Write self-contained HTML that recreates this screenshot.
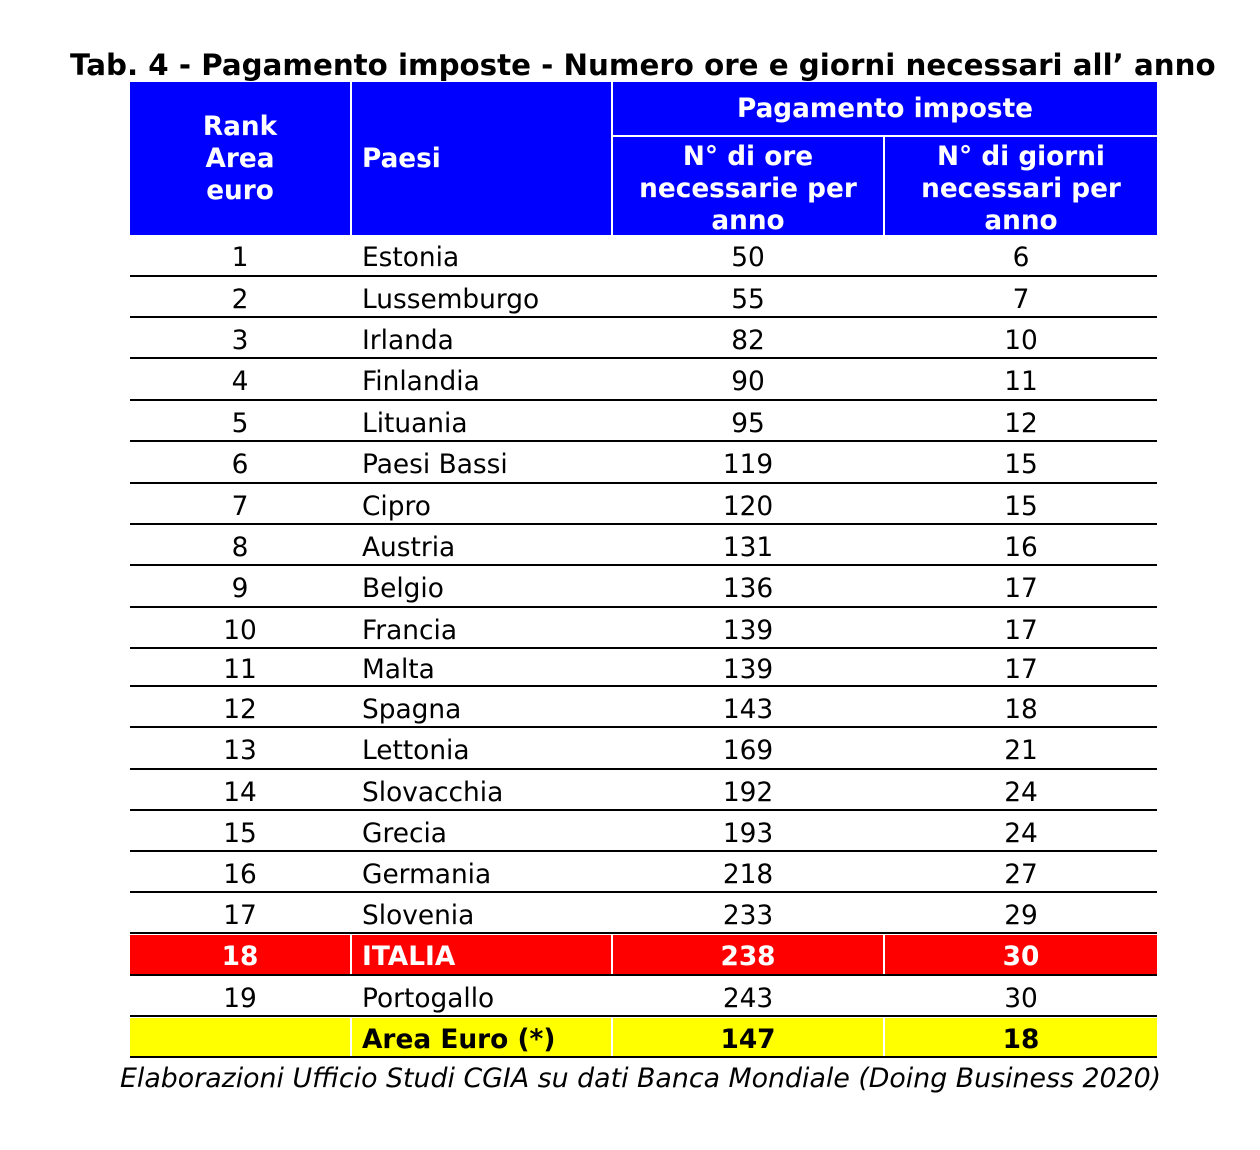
<!DOCTYPE html>
<html><head><meta charset="utf-8"><style>
body{margin:0;width:1260px;height:1150px;background:#fff;position:relative;font-family:"DejaVu Sans",Verdana,sans-serif;overflow:hidden}
.a{position:absolute}
.t{position:absolute;left:70px;top:48px;font-weight:bold;font-size:29.3px;white-space:nowrap}
.c{position:absolute;display:flex;align-items:center;font-size:26.4px;white-space:nowrap;padding-top:3px;box-sizing:border-box}
.ctr{justify-content:center;text-align:center}
.l{padding-left:10px}
.hb{background:#0000ff;color:#fff;font-weight:bold;line-height:32px;font-size:26.3px;padding-top:0}
.line{position:absolute;left:130px;width:1027px;height:2px;background:#000}
</style></head><body>
<div class="t">Tab. 4 - Pagamento imposte - Numero ore e giorni necessari all’ anno</div>
<div class="c hb ctr" style="left:130px;top:82px;width:220px;height:153px">Rank<br>Area<br>euro</div>
<div class="c hb l" style="left:352px;top:82px;width:259px;height:153px">Paesi</div>
<div class="c hb ctr" style="left:613px;top:82px;width:544px;height:53px">Pagamento imposte</div>
<div class="c hb ctr" style="left:613px;top:137px;width:270px;height:98px;padding-top:6px">N° di ore<br>necessarie per<br>anno</div>
<div class="c hb ctr" style="left:885px;top:137px;width:272px;height:98px;padding-top:6px">N° di giorni<br>necessari per<br>anno</div>
<div id="rows"></div>
<div class="a" style="left:120px;top:1063px;font-style:italic;font-size:26.8px;white-space:nowrap">Elaborazioni Ufficio Studi CGIA su dati Banca Mondiale (Doing Business 2020)</div>
<script>
var d=[["1","Estonia","50","6"],["2","Lussemburgo","55","7"],["3","Irlanda","82","10"],["4","Finlandia","90","11"],["5","Lituania","95","12"],["6","Paesi Bassi","119","15"],["7","Cipro","120","15"],["8","Austria","131","16"],["9","Belgio","136","17"],["10","Francia","139","17"],["11","Malta","139","17"],["12","Spagna","143","18"],["13","Lettonia","169","21"],["14","Slovacchia","192","24"],["15","Grecia","193","24"],["16","Germania","218","27"],["17","Slovenia","233","29"],["18","ITALIA","238","30"],["19","Portogallo","243","30"],["","Area Euro (*)","147","18"]];
var y=[235,276,317,358,400,441,483,524,565,607,648,686,727,769,810,851,892,933,975,1016,1057];
var h="";
for(var i=0;i<20;i++){var t=y[i]+(i?2:0),b=y[i+1],ht=b-t;
var bg="",st="";
if(i==17){bg="#ff0000";st="color:#fff;font-weight:bold;"}
if(i==19){bg="#ffff00";st="font-weight:bold;"}
if(bg){h+='<div class="a" style="left:130px;top:'+t+'px;width:1027px;height:'+ht+'px;background:'+bg+'"></div>';
[350,611,883].forEach(function(x){h+='<div class="a" style="left:'+x+'px;top:'+t+'px;width:2px;height:'+ht+'px;background:#fff"></div>'});}
h+='<div class="c ctr" style="'+st+'left:130px;top:'+t+'px;width:220px;height:'+ht+'px">'+d[i][0]+'</div>';
h+='<div class="c l" style="'+st+'left:352px;top:'+t+'px;width:259px;height:'+ht+'px">'+d[i][1]+'</div>';
h+='<div class="c ctr" style="'+st+'left:613px;top:'+t+'px;width:270px;height:'+ht+'px">'+d[i][2]+'</div>';
h+='<div class="c ctr" style="'+st+'left:885px;top:'+t+'px;width:272px;height:'+ht+'px">'+d[i][3]+'</div>';
h+='<div class="line" style="top:'+(b-1)+'px"></div>';}
document.getElementById("rows").innerHTML=h;
</script>
</body></html>
